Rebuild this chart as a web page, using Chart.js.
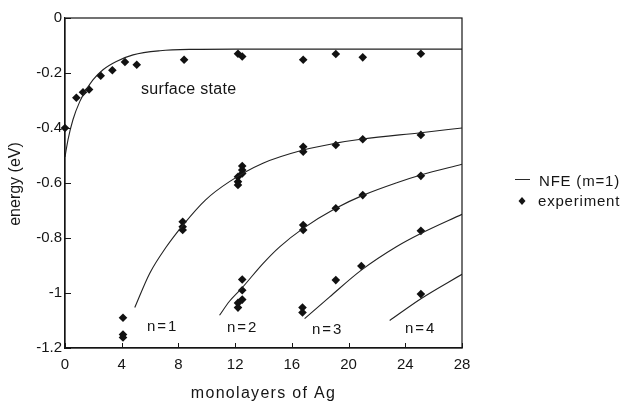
<!DOCTYPE html>
<html>
<head>
<meta charset="utf-8">
<script src="https://cdn.jsdelivr.net/npm/chart.js@4"></script>
<style>
  html, body { margin: 0; padding: 0; background: #fff; }
  #wrap { width: 628px; height: 402px; position: relative; }
</style>
</head>
<body>
<div id="wrap"><canvas id="chart"></canvas></div>
<script>
// experiment points (monolayers, eV)
const expX = [0, 0.8, 1.27, 1.7, 2.52, 3.34, 4.23, 5.06, 8.4, 12.2, 12.5, 16.8, 19.1, 21.0, 25.1,
  4.09, 4.09, 4.09, 8.3, 8.3, 8.3, 12.2, 12.2, 12.2, 12.5, 12.5, 12.5, 16.8, 16.8, 19.1, 21.0, 25.1,
  12.2, 12.2, 12.5, 12.5, 12.5, 16.8, 16.8, 19.1, 21.0, 25.1,
  16.75, 16.75, 19.1, 20.9, 25.1,
  25.1];
const expE = [-0.40, -0.29, -0.27, -0.26, -0.21, -0.19, -0.16, -0.17, -0.152, -0.13, -0.14, -0.152, -0.131, -0.143, -0.13,
  -1.09, -1.151, -1.162, -0.741, -0.759, -0.771, -0.577, -0.595, -0.607, -0.538, -0.553, -0.565, -0.468, -0.486, -0.462, -0.441, -0.425,
  -1.036, -1.053, -0.951, -0.99, -1.024, -0.753, -0.771, -0.692, -0.644, -0.574,
  -1.053, -1.071, -0.953, -0.902, -0.774,
  -1.004];

// NFE (m=1) curves
const surfX = [0, 0.21, 0.56, 1.04, 1.5, 1.97, 2.68, 3.62, 4.8, 6.7, 9, 12, 28];
const surfE = [-0.505, -0.443, -0.37, -0.304, -0.261, -0.225, -0.188, -0.158, -0.134, -0.119, -0.114, -0.113, -0.113];
const n1X = [4.92, 5.97, 7.15, 8.32, 9.9, 11.6, 13.96, 16.8, 19.1, 21, 25.1, 28];
const n1E = [-1.053, -0.929, -0.832, -0.753, -0.662, -0.595, -0.528, -0.48, -0.455, -0.44, -0.417, -0.40];
const n2X = [10.9, 11.6, 12.44, 13.96, 15.14, 16.8, 19.1, 21, 23.4, 25.1, 28];
const n2E = [-1.081, -1.03, -0.984, -0.893, -0.832, -0.765, -0.692, -0.645, -0.599, -0.571, -0.532];
const n3X = [16.9, 18.67, 20.9, 23.37, 25.13, 28];
const n3E = [-1.093, -1.014, -0.917, -0.832, -0.783, -0.714];
const n4X = [22.9, 25.13, 28];
const n4E = [-1.10, -1.02, -0.932];

const xTicks = [0, 4, 8, 12, 16, 20, 24, 28];
const yTicks = [0, -0.2, -0.4, -0.6, -0.8, -1, -1.2];
const yTickLabels = ['0', '-0.2', '-0.4', '-0.6', '-0.8', '-1', '-1.2'];
const branchLabels = ['surface state', 'n=1', 'n=2', 'n=3', 'n=4'];
const legendLabels = ['NFE (m=1)', 'experiment'];

const ink = '#151515';
const font = '"Liberation Sans", Arial, Helvetica, sans-serif';

function pts(xs, ys) {
  return xs.map((x, i) => ({ x: x, y: ys[i] }));
}

function curve(xs, ys) {
  return {
    data: pts(xs, ys),
    showLine: true,
    pointRadius: 0,
    borderColor: '#222',
    borderWidth: 1.1,
    cubicInterpolationMode: 'monotone',
    fill: false
  };
}

const extras = {
  id: 'extras',
  afterDraw(chart) {
    const ctx = chart.ctx;
    const a = chart.chartArea;
    const xs = chart.scales.x;
    const ys = chart.scales.y;
    ctx.save();
    // frame
    ctx.strokeStyle = ink;
    ctx.lineWidth = 1.2;
    ctx.strokeRect(a.left, a.top, a.right - a.left, a.bottom - a.top);
    // inward ticks
    ctx.lineWidth = 1;
    ctx.beginPath();
    xTicks.forEach(v => {
      const px = Math.round(xs.getPixelForValue(v)) + 0.5;
      ctx.moveTo(px, a.bottom);
      ctx.lineTo(px, a.bottom - 5);
    });
    yTicks.forEach(v => {
      const py = Math.round(ys.getPixelForValue(v)) + 0.5;
      ctx.moveTo(a.left, py);
      ctx.lineTo(a.left + 6, py);
    });
    ctx.stroke();

    ctx.fillStyle = ink;
    ctx.textBaseline = 'middle';
    ctx.textAlign = 'left';
    // branch labels
    ctx.font = '16px ' + font;
    ctx.letterSpacing = '0.3px';
    ctx.fillText(branchLabels[0], 141, 90);
    ctx.font = '15px ' + font;
    ctx.letterSpacing = '2px';
    ctx.fillText(branchLabels[1], 147, 327);
    ctx.fillText(branchLabels[2], 227, 328);
    ctx.fillText(branchLabels[3], 312, 330);
    ctx.fillText(branchLabels[4], 405, 329);

    // axis titles
    ctx.font = '16px ' + font;
    ctx.letterSpacing = '1.3px';
    ctx.textAlign = 'center';
    ctx.fillText('monolayers of Ag', (a.left + a.right) / 2, 394);
    ctx.letterSpacing = '0px';
    ctx.save();
    ctx.translate(16, 184);
    ctx.rotate(-Math.PI / 2);
    ctx.fillText('energy (eV)', 0, 0);
    ctx.restore();

    // legend
    ctx.textAlign = 'left';
    ctx.font = '15px ' + font;
    ctx.letterSpacing = '0.8px';
    ctx.strokeStyle = '#2a2a2a';
    ctx.beginPath();
    ctx.moveTo(515, 179.5);
    ctx.lineTo(530, 179.5);
    ctx.stroke();
    ctx.fillText(legendLabels[0], 539, 182);
    ctx.beginPath();
    ctx.moveTo(522, 197);
    ctx.lineTo(525.5, 201);
    ctx.lineTo(522, 205);
    ctx.lineTo(518.5, 201);
    ctx.closePath();
    ctx.fill();
    ctx.fillText(legendLabels[1], 538, 202);
    ctx.restore();
  }
};

const chart = new Chart(document.getElementById('chart'), {
  type: 'scatter',
  data: {
    datasets: [
      curve(surfX, surfE),
      curve(n1X, n1E),
      curve(n2X, n2E),
      curve(n3X, n3E),
      curve(n4X, n4E),
      {
        data: pts(expX, expE),
        pointStyle: 'rectRot',
        pointRadius: 4.3,
        pointBackgroundColor: '#111',
        pointBorderWidth: 0,
        borderWidth: 0,
        clip: false
      }
    ]
  },
  options: {
    responsive: true,
    maintainAspectRatio: false,
    animation: false,
    layout: { padding: { left: 0, top: 18, right: 166, bottom: 0 } },
    plugins: {
      legend: { display: false },
      tooltip: { enabled: false }
    },
    scales: {
      x: {
        type: 'linear',
        min: 0,
        max: 28,
        afterBuildTicks: s => { s.ticks = xTicks.map(v => ({ value: v })); },
        afterFit: s => { s.height = 54; },
        grid: { drawOnChartArea: false, drawTicks: false },
        border: { color: ink, width: 1.2 },
        ticks: { padding: 8, color: ink, font: { family: font, size: 15 } }
      },
      y: {
        type: 'linear',
        min: -1.2,
        max: 0,
        afterBuildTicks: s => { s.ticks = yTicks.map(v => ({ value: v })); },
        afterFit: s => { s.width = 65; },
        grid: { drawOnChartArea: false, drawTicks: false },
        border: { color: ink, width: 1.2 },
        ticks: {
          padding: 3,
          color: ink,
          font: { family: font, size: 15 },
          callback: v => yTickLabels[yTicks.findIndex(t => Math.abs(t - v) < 1e-6)]
        }
      }
    }
  },
  plugins: [extras]
});
</script>
</body>
</html>
